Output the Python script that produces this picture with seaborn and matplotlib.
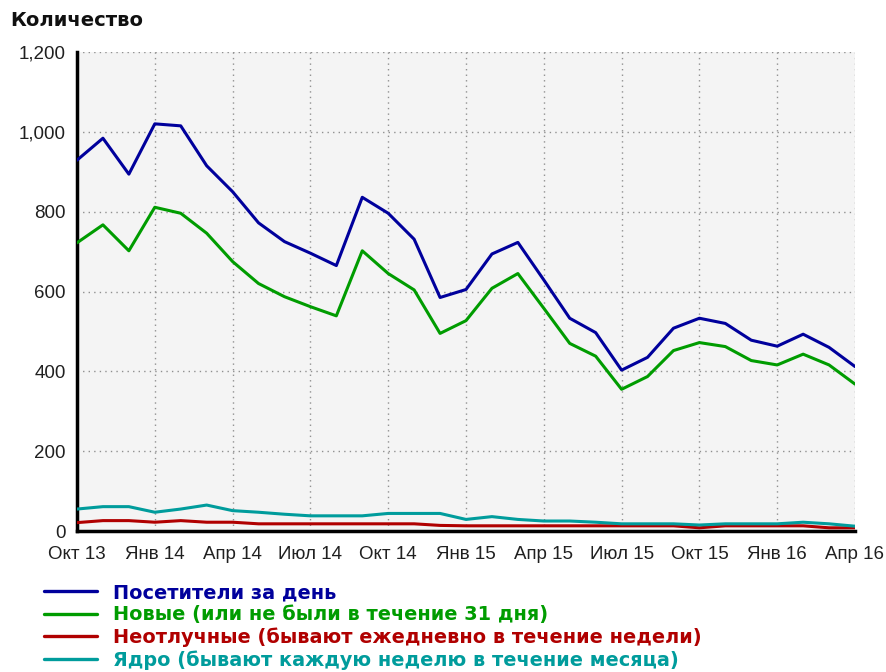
import matplotlib
matplotlib.use("Agg")
import matplotlib.pyplot as plt
import matplotlib.ticker as mticker
import seaborn as sns
import pandas as pd

months = ["Окт 13", "Ноя 13", "Дек 13", "Янв 14", "Фев 14", "Мар 14", "Апр 14", "Май 14",
          "Июн 14", "Июл 14", "Авг 14", "Сен 14", "Окт 14", "Ноя 14", "Дек 14", "Янв 15",
          "Фев 15", "Мар 15", "Апр 15", "Май 15", "Июн 15", "Июл 15", "Авг 15", "Сен 15",
          "Окт 15", "Ноя 15", "Дек 15", "Янв 16", "Фев 16", "Мар 16", "Апр 16"]

visitors = [929, 984, 894, 1020, 1015, 915, 850, 772, 725, 696, 665, 836, 796, 731, 585, 605,
            694, 723, 629, 533, 497, 403, 435, 508, 533, 520, 478, 463, 493, 460, 412]
new_vis = [722, 767, 702, 811, 796, 746, 675, 620, 587, 562, 539, 702, 645, 604, 495, 527,
           608, 645, 558, 470, 438, 355, 387, 452, 472, 462, 427, 416, 443, 416, 368]
loyal = [21, 26, 26, 22, 26, 22, 22, 18, 18, 18, 18, 18, 18, 18, 14, 13,
         13, 13, 13, 13, 13, 13, 13, 13, 8, 13, 13, 13, 13, 8, 8]
core = [55, 61, 61, 47, 55, 65, 51, 47, 42, 38, 38, 38, 44, 44, 44, 29,
        36, 29, 25, 25, 22, 18, 18, 18, 15, 18, 18, 18, 22, 18, 12]

series_names = ["Посетители за день",
                "Новые (или не были в течение 31 дня)",
                "Неотлучные (бывают ежедневно в течение недели)",
                "Ядро (бывают каждую неделю в течение месяца)"]
series_colors = ["#00009c", "#009c00", "#b00000", "#009c9c"]

tick_labels = ["Окт 13", "Янв 14", "Апр 14", "Июл 14", "Окт 14", "Янв 15",
               "Апр 15", "Июл 15", "Окт 15", "Янв 16", "Апр 16"]

rows = []
for name, vals in zip(series_names, [visitors, new_vis, loyal, core]):
    for i, v in enumerate(vals):
        rows.append({"month": i, "value": v, "series": name})
df = pd.DataFrame(rows)

sns.set_style("white")
plt.rcParams["font.family"] = ["Liberation Sans", "DejaVu Sans"]

fig = plt.figure(figsize=(8.87, 6.72), dpi=100)
ax = fig.add_axes([77 / 887, 1 - 531 / 672, (855 - 77) / 887, (531 - 52) / 672])
ax.set_facecolor("#f4f4f4")

sns.lineplot(data=df, x="month", y="value", hue="series", hue_order=series_names,
             palette=series_colors, linewidth=2.2, ax=ax, legend=False, zorder=3)

ax.set_xlim(0, len(months) - 1)
ax.set_ylim(0, 1200)
ax.set_xticks([months.index(t) for t in tick_labels])
ax.set_xticklabels(tick_labels)
ax.set_yticks(range(0, 1201, 200))
ax.yaxis.set_major_formatter(mticker.FuncFormatter(lambda v, p: f"{int(v):,}"))
ax.set_xlabel("")
ax.set_ylabel("")

ax.grid(True, linestyle=(0, (1, 3)), color="#909090", linewidth=1.0, zorder=0)
for s in ["top", "right"]:
    ax.spines[s].set_visible(False)
for s in ["left", "bottom"]:
    ax.spines[s].set_linewidth(2.5)
    ax.spines[s].set_color("black")
ax.tick_params(axis="both", direction="out", length=6, width=2, color="black",
               labelsize=13.5, labelcolor="#202020")
ax.tick_params(axis="x", pad=5)
ax.tick_params(axis="y", pad=2)

fig.text(10 / 887, 1 - 20 / 672, "Количество", fontsize=14, fontweight="bold",
         family="DejaVu Sans", va="center", ha="left", color="#101010")

handles = [plt.Line2D([], [], color=c, linewidth=2.4) for c in series_colors]
leg = fig.legend(handles, series_names, loc="upper left",
                 bbox_to_anchor=(44 / 887, 1 - 583 / 672), frameon=False,
                 prop={"family": "DejaVu Sans", "weight": "bold", "size": 13.9},
                 handlelength=2.75, handletextpad=0.82,
                 labelspacing=0.17, borderpad=0, borderaxespad=0)
for t, c in zip(leg.get_texts(), series_colors):
    t.set_color(c)

fig.savefig("out.png", dpi=100)
